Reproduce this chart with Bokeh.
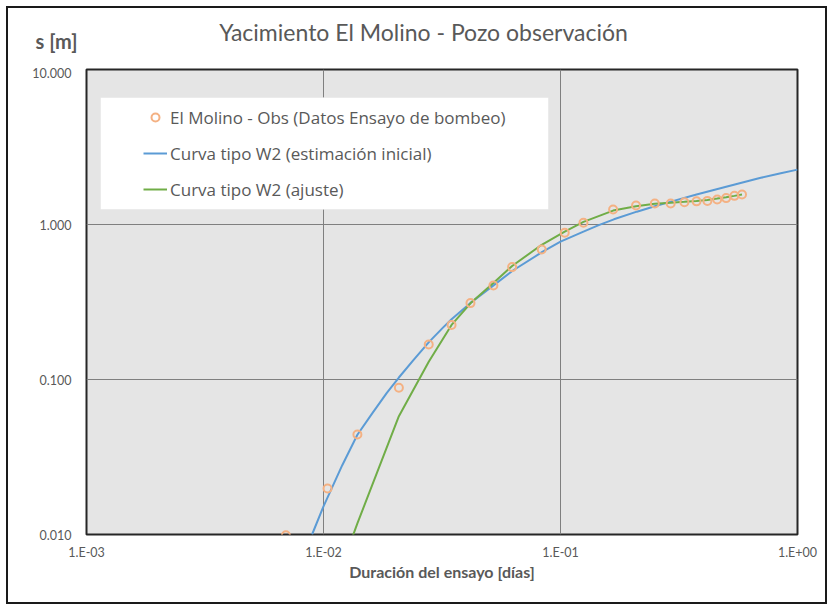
from bokeh.plotting import figure
from bokeh.layouts import column
from bokeh.models import (FixedTicker, CustomJSTickFormatter, Legend, LegendItem,
                          Label, BoxAnnotation, Range1d)
from bokeh.embed import file_html
from bokeh.resources import INLINE

# ---- data (days, metres) ----
obs_t = [0.00694, 0.0104, 0.0139, 0.0208, 0.0278, 0.0347, 0.0417, 0.0521, 0.0625,
         0.0833, 0.1042, 0.125, 0.1667, 0.2083, 0.25, 0.2917, 0.3333, 0.375,
         0.4167, 0.4583, 0.5, 0.5417, 0.5833]
obs_s = [0.0099, 0.0198, 0.0442, 0.0885, 0.168, 0.225, 0.311, 0.404, 0.531,
         0.69, 0.885, 1.026, 1.25, 1.327, 1.366, 1.366, 1.393, 1.41,
         1.42, 1.45, 1.48, 1.53, 1.56]

w2_ini_t = [0.00895, 0.0100, 0.0120, 0.0139, 0.0160, 0.0185, 0.0208, 0.0240, 0.0279,
            0.0320, 0.0347, 0.0417, 0.0525, 0.0630, 0.0838, 0.100, 0.125, 0.145,
            0.168, 0.210, 0.250, 0.290, 0.375, 0.500, 0.700, 0.850, 1.000]
w2_ini_s = [0.010, 0.0152, 0.028, 0.044, 0.060, 0.082, 0.103, 0.134, 0.175,
            0.217, 0.245, 0.312, 0.408, 0.505, 0.665, 0.775, 0.90, 0.99,
            1.08, 1.21, 1.31, 1.40, 1.56, 1.75, 2.00, 2.14, 2.26]

w2_fit_t = [0.0104, 0.0139, 0.0208, 0.0278, 0.0347, 0.0417, 0.0521, 0.0625, 0.0833,
            0.1042, 0.125, 0.1667, 0.2083, 0.25, 0.2917, 0.3333, 0.375, 0.4167,
            0.4583, 0.5, 0.5417, 0.5833]
w2_fit_s = [0.0035, 0.0118, 0.058, 0.13, 0.225, 0.31, 0.42, 0.54, 0.74,
            0.90, 1.04, 1.23, 1.31, 1.36, 1.38, 1.40, 1.42, 1.44,
            1.47, 1.50, 1.53, 1.56]

x_ticks = [0.001, 0.01, 0.1, 1.0]
y_ticks = [0.01, 0.1, 1.0, 10.0]

title_text = "Yacimiento El Molino - Pozo observación"
y_title = "s [m]"
x_title = "Duración del ensayo [días]"
obs_name = "El Molino - Obs (Datos Ensayo de bombeo)"
ini_name = "Curva tipo W2 (estimación inicial)"
fit_name = "Curva tipo W2 (ajuste)"

GRAY_TXT = "#595959"
W = 817

# ---- heading strip (chart title + y-axis title) ----
top = figure(width=W, height=59, x_range=Range1d(0, 1), y_range=Range1d(0, 1),
             x_axis_location=None, y_axis_location=None, title_location=None,
             min_border=0, output_backend="svg", toolbar_location=None,
             background_fill_color="white", border_fill_color="white",
             outline_line_color=None)
top.frame_align = False
top.grid.visible = False
top.add_layout(Label(x=415, y=36, x_units="screen", y_units="screen", text=title_text,
                     text_font="Lato", text_font_size="23px", text_color=GRAY_TXT,
                     text_align="center", text_baseline="middle"))
top.add_layout(Label(x=48, y=27, x_units="screen", y_units="screen", text=y_title,
                     text_font="Lato", text_font_size="20px", text_font_style="bold",
                     text_color=GRAY_TXT, text_align="center", text_baseline="middle"))

# ---- main chart ----
p = figure(x_axis_type="log", y_axis_type="log",
           x_range=Range1d(x_ticks[0], x_ticks[-1]), y_range=Range1d(y_ticks[0], y_ticks[-1]),
           frame_width=711, frame_height=465, title_location=None,
           min_border_left=78, min_border_right=28, min_border_top=2, min_border_bottom=68,
           output_backend="svg", toolbar_location=None,
           background_fill_color="#e5e5e5", border_fill_color="white")
p.frame_align = False

p.outline_line_color = "#262626"
p.outline_line_width = 2

xt = FixedTicker(ticks=x_ticks, minor_ticks=[])
yt = FixedTicker(ticks=y_ticks, minor_ticks=[])
p.xaxis.ticker = xt
p.yaxis.ticker = yt
p.xgrid.ticker = xt
p.ygrid.ticker = yt
p.xaxis.formatter = CustomJSTickFormatter(code="""
const e = Math.round(Math.log10(tick));
const sign = e < 0 ? "-" : "+";
const a = Math.abs(e);
return "1.E" + sign + (a < 10 ? "0" : "") + a;
""")
p.yaxis.formatter = CustomJSTickFormatter(code="return tick.toFixed(3);")

for ax in (p.xaxis[0], p.yaxis[0]):
    ax.axis_line_color = None
    ax.major_tick_line_color = None
    ax.minor_tick_line_color = None
    ax.major_label_text_font = "Lato"
    ax.major_label_text_font_size = "12.5px"
    ax.major_label_text_color = GRAY_TXT
p.xaxis.major_label_standoff = 4
p.yaxis.major_label_standoff = 9
p.xaxis.axis_label = x_title
p.xaxis.axis_label_text_font = "Lato"
p.xaxis.axis_label_text_font_size = "16px"
p.xaxis.axis_label_text_font_style = "bold"
p.xaxis.axis_label_text_color = GRAY_TXT
p.xaxis.axis_label_standoff = -1

for g in (p.xgrid[0], p.ygrid[0]):
    g.grid_line_color = "#7f7f7f"
    g.grid_line_width = 1

r_ini = p.line(w2_ini_t, w2_ini_s, line_color="#5b9bd5", line_width=2)
r_fit = p.line(w2_fit_t, w2_fit_s, line_color="#70ad47", line_width=2)
r_obs = p.scatter(obs_t, obs_s, marker="circle", size=8, fill_color=None,
                  line_color="#f4b183", line_width=2)

# legend background box
p.add_layout(BoxAnnotation(left=14, right=462, top=437, bottom=325,
                           left_units="screen", right_units="screen",
                           top_units="screen", bottom_units="screen",
                           fill_color="white", fill_alpha=1.0,
                           line_color="#d9d9d9", line_width=1))

legend = Legend(items=[LegendItem(label=obs_name, renderers=[r_obs]),
                       LegendItem(label=ini_name, renderers=[r_ini]),
                       LegendItem(label=fit_name, renderers=[r_fit])],
                location=(57, 327), padding=0, spacing=0, margin=0,
                glyph_width=24, glyph_height=20, label_height=36, label_standoff=3,
                label_text_font="Open Sans", label_text_font_size="17px",
                label_text_color=GRAY_TXT,
                background_fill_alpha=0, border_line_alpha=0)
p.add_layout(legend, "center")

layout = column(top, p, spacing=0, margin=(6, 0, 0, 6),
                styles={"border": "2px solid #1a1a1a"})

open("out.html", "w").write(file_html(layout, INLINE))
